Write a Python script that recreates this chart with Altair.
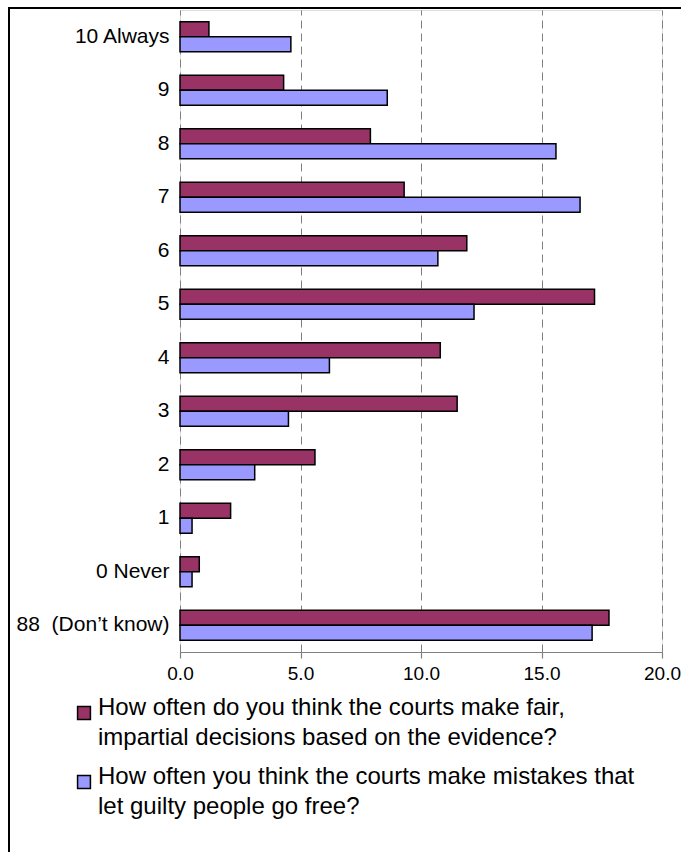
import altair as alt
import pandas as pd

# Response categories, top to bottom
categories = ["10 Always", "9", "8", "7", "6", "5", "4", "3", "2", "1", "0 Never", "88\u00a0 (Don’t know)"]

# The two survey questions (legend labels, with line breaks)
series = [
    "How often do you think the courts make fair,\nimpartial decisions based on the evidence?",
    "How often you think the courts make mistakes that\nlet guilty people go free?",
]
series_colors = ["#993366", "#9999FF"]

# Percentages per category
fair_decisions = [1.2, 4.3, 7.9, 9.3, 11.9, 17.2, 10.8, 11.5, 5.6, 2.1, 0.8, 17.8]
guilty_go_free = [4.6, 8.6, 15.6, 16.6, 10.7, 12.2, 6.2, 4.5, 3.1, 0.5, 0.5, 17.1]

x_ticks = [0, 5, 10, 15, 20]

rows = []
for cat, a, b in zip(categories, fair_decisions, guilty_go_free):
    rows.append({"category": cat, "series": series[0], "value": a})
    rows.append({"category": cat, "series": series[1], "value": b})
df = pd.DataFrame(rows)
legend_df = pd.DataFrame({"series": series})

FONT = "Liberation Sans"
W, H = 482, 642

bars = alt.Chart(df).mark_bar(stroke="black", strokeWidth=1.5).encode(
    y=alt.Y(
        "category:N",
        sort=categories,
        scale=alt.Scale(paddingInner=0.44, paddingOuter=0.22),
        axis=alt.Axis(
            title=None, domain=False, ticks=False, grid=False,
            labelFont=FONT, labelFontSize=21, labelColor="black", labelPadding=11,
            labelLimit=300,
        ),
    ),
    yOffset=alt.YOffset("series:N", sort=series, scale=alt.Scale(domain=series, paddingInner=0, paddingOuter=0)),
    x=alt.X(
        "value:Q",
        scale=alt.Scale(domain=[0, 20], nice=False),
        axis=alt.Axis(
            title=None, values=x_ticks, format=".1f",
            grid=True, gridColor="#808080", gridDash=[8, 5], gridWidth=1,
            domainColor="#808080", domainWidth=1.2,
            tickColor="#808080", tickSize=6, tickWidth=1.2,
            labelFont=FONT, labelFontSize=19, labelColor="black", labelPadding=6,
            labelFlush=False,
        ),
    ),
    color=alt.Color("series:N", scale=alt.Scale(domain=series, range=series_colors), legend=None),
)

# Outer frame around the whole figure
frame = alt.Chart(pd.DataFrame({"k": [0]})).mark_rect(
    filled=False, stroke="black", strokeWidth=2
).encode(
    x=alt.value(-171), x2=alt.value(W + 60),
    y=alt.value(-2), y2=alt.value(H + 260),
)

legend_y = alt.Y("series:N", scale=alt.Scale(domain=series, range=[703, 772], padding=0), axis=None)

legend_swatches = alt.Chart(legend_df).mark_square(
    size=165, filled=True, stroke="black", strokeWidth=1.5, opacity=1
).encode(
    x=alt.value(-96),
    y=legend_y,
    color=alt.Color("series:N", scale=alt.Scale(domain=series, range=series_colors), legend=None),
)

legend_text = alt.Chart(legend_df).mark_text(
    align="left", baseline="top", dy=-17, lineBreak="\n", lineHeight=30,
    font=FONT, fontSize=24, color="black",
).encode(
    x=alt.value(-82),
    y=legend_y,
    text="series:N",
)

chart = alt.layer(frame, bars, legend_swatches, legend_text).resolve_scale(
    y="independent"
).properties(
    width=W, height=H,
    autosize=alt.AutoSizeParams(type="none"),
    padding={"left": 180, "top": 10, "right": 19, "bottom": 200},
).configure_view(stroke=None).configure(background="white")

chart.save("out.html", embed_options={"renderer": "svg", "actions": False})
